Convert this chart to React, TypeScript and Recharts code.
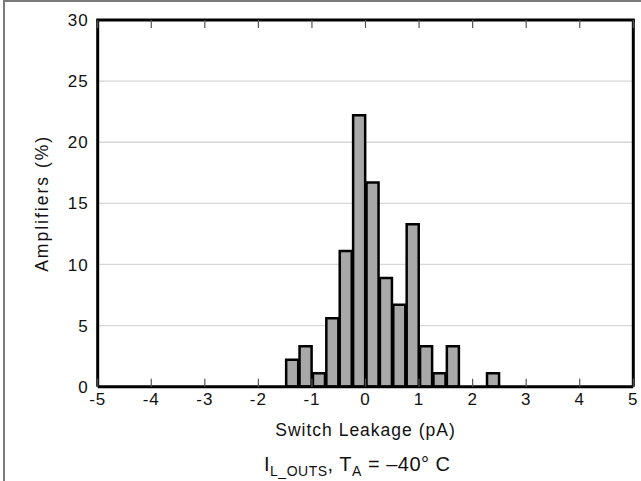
import React from 'react';
import { ComposedChart, Bar, XAxis, YAxis, CartesianGrid, Label } from 'recharts';

// histogram bins (pA), 0.25 pA wide
const binCenters = [-1.375, -1.125, -0.875, -0.625, -0.375, -0.125, 0.125, 0.375, 0.625, 0.875, 1.125, 1.375, 1.625, 1.875, 2.125, 2.375];
const amplifierPct = [2.2, 3.3, 1.1, 5.6, 11.1, 22.2, 16.7, 8.9, 6.7, 13.3, 3.3, 1.1, 3.3, 0, 0, 1.1];
const xTicks = [-5, -4, -3, -2, -1, 0, 1, 2, 3, 4, 5];
const yTicks = [0, 5, 10, 15, 20, 25, 30];
const binWidth = 0.25;

const data = binCenters.map((x, i) => ({ x, pct: amplifierPct[i] }));

const FONT = "'Liberation Sans', Arial, sans-serif";
const W = 641;
const H = 481;
const margin = { top: 0, right: 6.7, bottom: 0, left: 0 };
const topAxisH = 20;
const yAxisWidth = 97.7;
const plotH = 366.7;
const plotW = W - margin.left - margin.right - yAxisWidth - 1;
const barSize = (plotW / (xTicks[xTicks.length - 1] - xTicks[0])) * binWidth;
const frame = { stroke: '#000', strokeWidth: 3 };

const BottomTick = (props: any) => {
  const { x, y, payload } = props;
  return (
    <g>
      <line x1={x} y1={y} x2={x} y2={y - 8} stroke="#555" strokeWidth={1.2} />
      <text x={x} y={y + 18} textAnchor="middle" fontSize={17} letterSpacing={1} fill="#111" fontFamily={FONT}>
        {payload.value}
      </text>
    </g>
  );
};

// top ticks point inward; the first one also draws the top edge of the frame
const TopTick = (props: any) => {
  const { x, y, index } = props;
  return (
    <g>
      {index === 0 && <rect x={x - 1.5} y={y - 1.5} width={plotW + 3} height={3} fill="#000" stroke="none" />}
      <line x1={x} y1={y} x2={x} y2={y + 8} stroke="#555" strokeWidth={1.2} />
    </g>
  );
};

export default function App() {
  return (
    <div style={{ position: 'absolute', left: 0, top: 0, width: W, height: H, background: '#fff', fontFamily: FONT }}>
      <div
        style={{
          position: 'absolute',
          left: 3,
          top: 0,
          width: W - 3,
          height: H,
          borderLeft: '2px solid #7a7a7a',
          borderTop: '2px solid #7a7a7a',
          boxSizing: 'border-box',
        }}
      />
      <div style={{ position: 'absolute', left: 0, top: 0 }}>
        <ComposedChart width={W} height={H} data={data} margin={margin}>
          <CartesianGrid
            vertical={false}
            horizontalValues={yTicks.slice(1, -1)}
            stroke="#d6d6d6"
            strokeWidth={1.3}
          />
          <Bar
            dataKey="pct"
            fill="#a8a8a8"
            stroke="#000"
            strokeWidth={2.5}
            barSize={barSize}
            isAnimationActive={false}
          />
          <XAxis
            dataKey="x"
            type="number"
            domain={[-5, 5]}
            ticks={xTicks}
            interval={0}
            height={H - margin.top - topAxisH - plotH}
            tickSize={0}
            tickMargin={0}
            tickLine={false}
            tick={<BottomTick />}
            axisLine={frame}
          >
            <Label
              value="Switch Leakage (pA)"
              position="insideBottom"
              offset={45}
              fontSize={17.5}
              letterSpacing={1}
              fill="#111"
              fontFamily={FONT}
            />
          </XAxis>
          <XAxis
            xAxisId="top"
            dataKey="x"
            orientation="top"
            type="number"
            domain={[-5, 5]}
            ticks={xTicks}
            interval={0}
            height={topAxisH}
            tickSize={0}
            tickMargin={0}
            tickLine={false}
            tick={<TopTick />}
            axisLine={false}
          />
          <YAxis
            type="number"
            domain={[0, 30]}
            ticks={yTicks}
            interval={0}
            width={yAxisWidth}
            tickSize={0}
            tickMargin={9}
            tickLine={false}
            tick={{ fontSize: 17, fill: '#111', fontFamily: FONT, letterSpacing: 1 }}
            axisLine={frame}
          >
            <Label
              value="Amplifiers (%)"
              angle={-90}
              position="insideLeft"
              offset={42}
              fontSize={17.5}
              letterSpacing={2}
              fill="#111"
              fontFamily={FONT}
              style={{ textAnchor: 'middle' }}
            />
          </YAxis>
          <YAxis
            yAxisId="right"
            orientation="right"
            type="number"
            domain={[0, 30]}
            width={1}
            tick={false}
            tickLine={false}
            axisLine={frame}
          />
        </ComposedChart>
      </div>
      <div
        style={{
          position: 'absolute',
          left: 264,
          top: 453,
          fontSize: 20,
          letterSpacing: 0.5,
          color: '#111',
          whiteSpace: 'nowrap',
          lineHeight: '23px',
        }}
      >
        I<sub style={{ fontSize: 14 }}>L_OUTS</sub>, T<sub style={{ fontSize: 14 }}>A</sub> = –40° C
      </div>
    </div>
  );
}
